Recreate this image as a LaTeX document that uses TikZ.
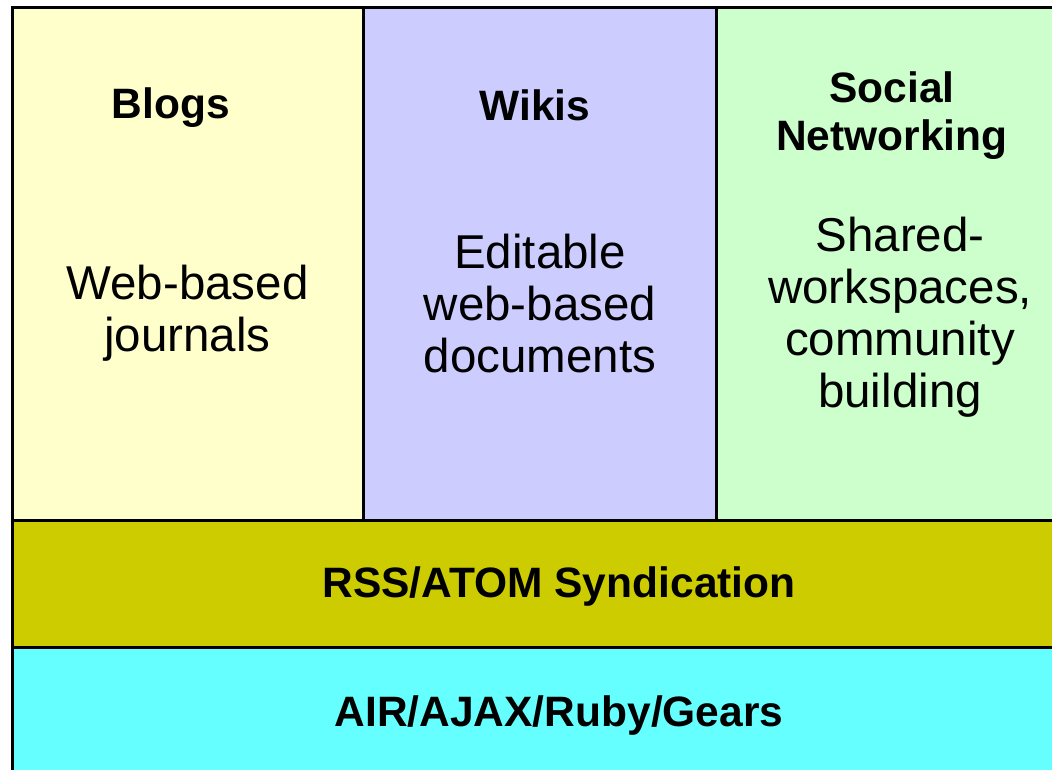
\documentclass[tikz,border=0pt]{standalone}
\usepackage{fontspec}
\setmainfont{Liberation Sans}
\definecolor{cBlog}{HTML}{FFFFCC}
\definecolor{cWiki}{HTML}{CCCCFF}
\definecolor{cSocial}{HTML}{CCFFCC}
\definecolor{cRss}{HTML}{CCCC00}
\definecolor{cAir}{HTML}{66FFFF}
\tikzset{
  panel/.style={draw=black, line width=3pt},
  title/.style={font=\fontsize{42.5}{48}\selectfont\bfseries, align=center, inner sep=0pt, text=black},
  body/.style={font=\fontsize{47.5}{52}\selectfont, align=center, inner sep=0pt, text=black},
}
\begin{document}
\begin{tikzpicture}[x=1pt,y=-1pt]
\useasboundingbox (0,0) rectangle (1052,770);
\begin{scope}
\clip (0,0) rectangle (1052,770);
\fill[cBlog] (12,8) rectangle (363.5,520);
\fill[cWiki] (363.5,8) rectangle (716,520);
\fill[cSocial] (716,8) rectangle (1120,520);
\fill[cRss] (12,520) rectangle (1120,647.5);
\fill[cAir] (12,647.5) rectangle (1120,800);
\draw[panel] (1120,8) -- (12,8) -- (12,800);
\draw[panel] (12,520) -- (1120,520);
\draw[panel] (12,647.5) -- (1120,647.5);
\draw[panel] (363.5,8) -- (363.5,520);
\draw[panel] (716,8) -- (716,520);
\end{scope}
\node[title] (blogs) at (171,107.5) {Blogs};
\node[title] (wikis) at (535,105) {Wikis};
\node[title] (social) at (892,115.5) {Social\\Networking};
\node[body] (journals) at (187.5,313.5) {Web-based\\journals};
\node[body] (docs) at (540,304) {Editable\\web-based\\documents};
\node[body] (shared) at (900,317) {Shared-\\workspaces,\\community\\building};
\node[title] (rss) at (559,587) {RSS/ATOM Syndication};
\node[title] (air) at (559,716) {AIR/AJAX/Ruby/Gears};
\end{tikzpicture}
\end{document}
